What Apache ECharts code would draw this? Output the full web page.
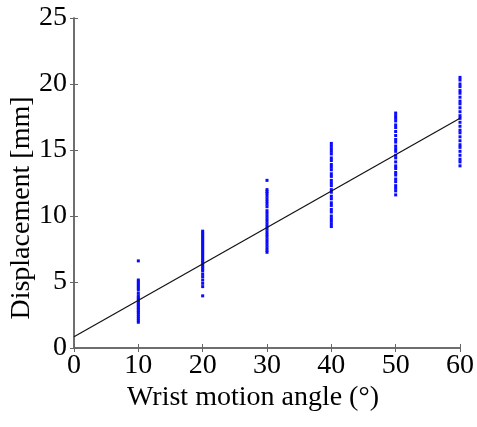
<!DOCTYPE html>
<html><head><meta charset="utf-8">
<script src="https://cdn.jsdelivr.net/npm/echarts@6/dist/echarts.min.js"></script>
<style>html,body{margin:0;padding:0;background:#fff}#c{width:477px;height:427px}</style>
</head><body><div id="c"></div>
<script>
const xTicks = [0, 10, 20, 30, 40, 50, 60];
const yTicks = [0, 5, 10, 15, 20, 25];
const angles = [10, 20, 30, 40, 50, 60];
const disp10 = [6.6, 5.15, 5.0, 4.85, 4.7, 4.55, 4.4, 4.15, 3.95, 3.8, 3.7, 3.55, 3.45, 3.3, 3.2, 3.05, 2.95, 2.8, 2.7, 2.55, 2.4, 2.25, 2.1, 1.95];
const disp20 = [8.85, 8.7, 8.55, 8.4, 8.25, 8.1, 7.95, 7.8, 7.65, 7.5, 7.35, 7.2, 7.05, 6.9, 6.75, 6.6, 6.45, 6.3, 6.15, 6.0, 5.85, 5.6, 5.4, 5.15, 4.9, 4.65, 3.95];
const disp30 = [12.7, 12.0, 11.85, 11.7, 11.5, 11.3, 11.1, 10.9, 10.7, 10.4, 10.2, 10.0, 9.8, 9.6, 9.4, 9.2, 9.0, 8.8, 8.6, 8.4, 8.2, 8.0, 7.8, 7.6, 7.4, 7.25];
const disp40 = [15.5, 15.3, 15.1, 14.9, 14.7, 14.4, 14.2, 13.9, 13.7, 13.5, 13.2, 13.0, 12.7, 12.5, 12.3, 12.0, 11.8, 11.5, 11.3, 11.0, 10.8, 10.5, 10.3, 10.0, 9.8, 9.6, 9.4, 9.2];
const disp50 = [17.8, 17.6, 17.4, 17.2, 16.9, 16.7, 16.4, 16.1, 15.8, 15.6, 15.3, 15.1, 14.9, 14.6, 14.4, 14.1, 13.8, 13.6, 13.3, 13.1, 12.8, 12.6, 12.3, 12.1, 11.9, 11.6];
const disp60 = [20.5, 20.3, 20.0, 19.8, 19.5, 19.3, 19.0, 18.7, 18.5, 18.2, 17.9, 17.6, 17.4, 17.1, 16.8, 16.5, 16.3, 16.0, 15.7, 15.4, 15.2, 14.9, 14.6, 14.3, 14.1, 13.8];
const fitX = [0, 60];
const fitY = [0.85, 17.4];

const groups = [disp10, disp20, disp30, disp40, disp50, disp60];
const pts = [];
groups.forEach((g, i) => g.forEach(v => pts.push([angles[i], v])));

const font = "'Liberation Serif', 'Times New Roman', serif";
const axisLine = {show: true, lineStyle: {color: '#666', width: 1.5}};
const ticks = {show: true, inside: true, length: 4, lineStyle: {color: '#666'}};
const chart = echarts.init(document.getElementById('c'));
chart.setOption({
  animation: false,
  grid: {left: 74, right: 17, top: 18, bottom: 79, containLabel: false, outerBoundsMode: 'none'},
  xAxis: [{
    type: 'value', min: 0, max: 60, interval: 10,
    name: 'Wrist motion angle (°)', nameLocation: 'middle', nameGap: 36, nameMoveOverlap: false,
    nameTextStyle: {fontFamily: font, fontSize: 28, color: '#000', padding: [0, 28, 0, 0]},
    axisLine, axisTick: ticks, splitLine: {show: false},
    axisLabel: {fontFamily: font, fontSize: 28, color: '#000', margin: 4}
  }, {
    type: 'value', position: 'top', min: 0, max: 60, interval: 10,
    axisLine, axisTick: ticks, splitLine: {show: false}, axisLabel: {show: false}
  }],
  yAxis: [{
    type: 'value', min: 0, max: 25, interval: 5,
    name: 'Displacement [mm]', nameLocation: 'middle', nameGap: 38, nameMoveOverlap: false,
    nameTextStyle: {fontFamily: font, fontSize: 28, color: '#000', padding: [0, 50, 0, 0]},
    axisLine, axisTick: ticks, splitLine: {show: false},
    axisLabel: {fontFamily: font, fontSize: 28, color: '#000', margin: 7}
  }, {
    type: 'value', position: 'right', min: 0, max: 25, interval: 5,
    axisLine, axisTick: ticks, splitLine: {show: false}, axisLabel: {show: false}
  }],
  series: [{
    type: 'scatter', data: pts, symbol: 'rect', symbolSize: 3,
    itemStyle: {color: '#0a0aff', opacity: 1}
  }, {
    type: 'line', data: fitX.map((x, i) => [x, fitY[i]]), symbol: 'none',
    lineStyle: {color: '#111', width: 1.2}, z: 3
  }]
});
</script></body></html>
